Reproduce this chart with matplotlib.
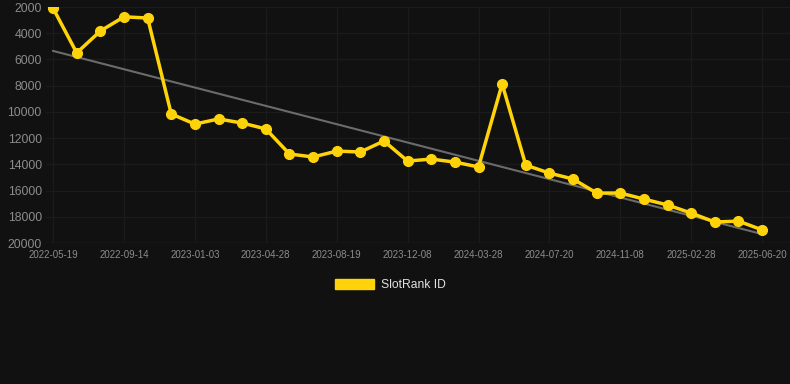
import matplotlib
matplotlib.use("Agg")
import matplotlib.pyplot as plt
import matplotlib.patches as mpatches
import numpy as np

# rank values, one per period (lower on the chart = bigger number)
rank = [2100, 5500, 3830, 2750, 2840, 10160, 10930, 10540, 10850, 11300,
        13210, 13440, 12990, 13060, 12220, 13750, 13600, 13830, 14200, 7870,
        14060, 14670, 15120, 16190, 16190, 16650, 17100, 17720, 18400, 18330,
        19000]
tick_labels = ["2022-05-19", "2022-09-14", "2023-01-03", "2023-04-28",
               "2023-08-19", "2023-12-08", "2024-03-28", "2024-07-20",
               "2024-11-08", "2025-02-28", "2025-06-20"]
y_ticks = [2000, 4000, 6000, 8000, 10000, 12000, 14000, 16000, 18000, 20000]

plt.rcParams["font.family"] = ["Liberation Sans", "DejaVu Sans"]

bg = "#111111"
yellow = "#FFD30A"

W, H = 790, 384
fig = plt.figure(figsize=(W / 100, H / 100), dpi=100, facecolor=bg)
ax = fig.add_axes([46 / W, 1 - 243 / H, (790 - 46) / W, (243 - 7) / H])
ax.set_facecolor(bg)

x = np.arange(len(rank))
# trend line (least squares)
k, b = np.polyfit(x, rank, 1)
ax.plot(x, k * x + b, color="#6b6b6b", lw=1.5, zorder=2)

ax.plot(x, rank, color=yellow, lw=2.5, marker="o", ms=7, zorder=3)

ax.set_ylim(20000, 2000)
ax.set_xlim(-0.3, len(rank) - 1 + 1.18)
ax.set_yticks(y_ticks)
ax.set_yticklabels([str(v) for v in y_ticks])
ax.set_xticks(x[::3])
ax.set_xticklabels(tick_labels)

ax.grid(True, color="#1b1b1b", lw=1.0)
ax.axhline(20000, color="#2a2a2a", lw=1.0, zorder=1)
ax.set_axisbelow(True)
for s in ax.spines.values():
    s.set_visible(False)
ax.tick_params(axis="y", length=0, pad=3, labelcolor="#8c8c8c", labelsize=8.8)
ax.tick_params(axis="x", length=0, pad=5, labelcolor="#8c8c8c", labelsize=7)

handle = mpatches.Patch(color=yellow, label="SlotRank ID")
fig.legend(handles=[handle], loc="center", bbox_to_anchor=(390 / W, 1 - 285 / H),
           frameon=False, handlelength=3.3, handleheight=0.9, handletextpad=0.5,
           fontsize=8.7, labelcolor="#e0e0e0")

fig.savefig("out.png", dpi=100, facecolor=bg)
